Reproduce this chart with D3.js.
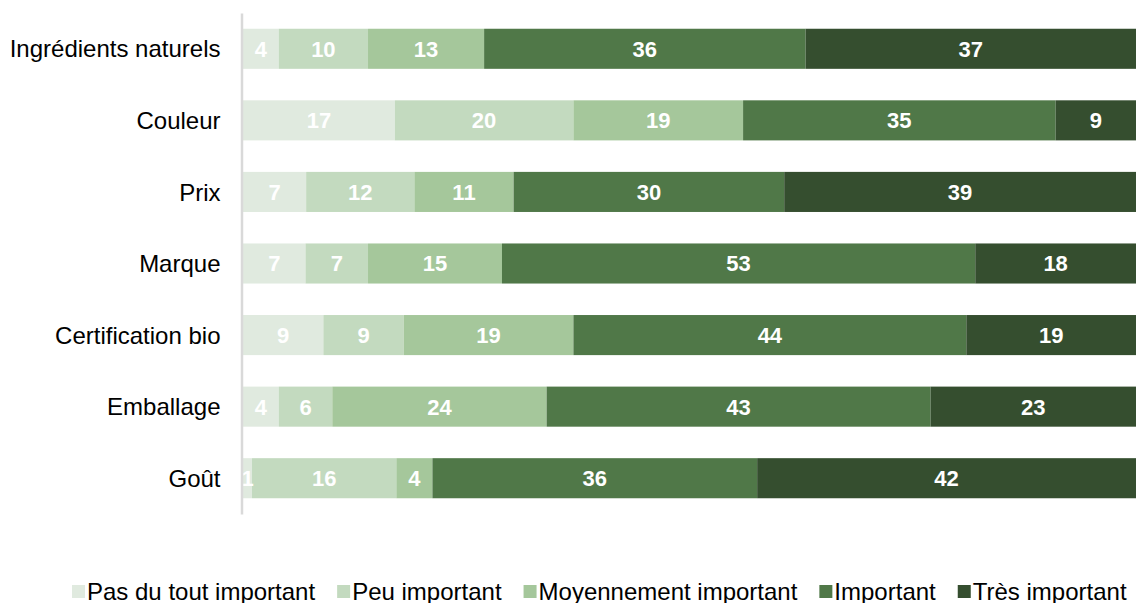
<!DOCTYPE html>
<html lang="fr">
<head>
<meta charset="UTF-8">
<title>Importance des critères</title>
<script src="https://cdn.jsdelivr.net/npm/d3@7"></script>
<style>
    body { margin: 0; background: #fff; }
    #chart { width: 1136px; height: 603px; }
    text { font-family: Arial, "Liberation Sans", sans-serif; }
</style>
</head>
<body>
<div id="chart"></div>
<script>
    // données
    var categories = ["Ingrédients naturels", "Couleur", "Prix", "Marque", "Certification bio", "Emballage", "Goût"];
    var seriesNames = ["Pas du tout important", "Peu important", "Moyennement important", "Important", "Très important"];
    var pasDuTout = [4, 17, 7, 7, 9, 4, 1];
    var peu = [10, 20, 12, 7, 9, 6, 16];
    var moyen = [13, 19, 11, 15, 19, 24, 4];
    var important = [36, 35, 30, 53, 44, 43, 36];
    var tres = [37, 9, 39, 18, 19, 23, 42];
    var colors = ["#e0eadf", "#c3dabf", "#a5c79b", "#507848", "#354e2f"];

    var width = 1136, height = 603;
    var mLeft = 243, mRight = 1136, mTop = 13, mBottom = 514;

    var rows = categories.map(function (c, i) {
        return {cat: c, v: [pasDuTout[i], peu[i], moyen[i], important[i], tres[i]]};
    });

    var svg = d3.select("#chart").append("svg")
        .attr("width", width)
        .attr("height", height);

    var y = d3.scaleBand()
        .domain(categories)
        .range([mTop, mBottom])
        .paddingInner(0.44)
        .paddingOuter(0.22);

    var x = d3.scaleLinear().domain([0, 1]).range([mLeft, mRight]);

    // barres empilées (normalisées à 100 %)
    rows.forEach(function (r) {
        var total = d3.sum(r.v);
        var acc = 0;
        var segs = r.v.map(function (v, k) {
            var s = {k: k, v: v, x0: acc / total, x1: (acc + v) / total};
            acc += v;
            return s;
        });
        var g = svg.append("g");
        g.selectAll("rect")
            .data(segs)
            .enter()
            .append("rect")
            .attr("x", function (d) { return x(d.x0); })
            .attr("width", function (d) { return x(d.x1) - x(d.x0); })
            .attr("y", y(r.cat))
            .attr("height", y.bandwidth())
            .attr("fill", function (d) { return colors[d.k]; });
        g.selectAll("text")
            .data(segs)
            .enter()
            .append("text")
            .attr("x", function (d) { return (x(d.x0) + x(d.x1)) / 2; })
            .attr("y", y(r.cat) + y.bandwidth() / 2)
            .attr("dy", "0.36em")
            .attr("text-anchor", "middle")
            .attr("fill", "#fff")
            .style("font-size", "22px")
            .style("font-weight", "bold")
            .text(function (d) { return d.v; });
    });

    // axe vertical
    var yAxis = svg.append("g")
        .attr("transform", "translate(" + (mLeft - 1.5) + ",0)")
        .call(d3.axisLeft(y).tickSize(0).tickPadding(21));
    yAxis.select(".domain")
        .attr("stroke", "#d9d9d9")
        .attr("stroke-width", 2.5);
    yAxis.selectAll("text")
        .attr("fill", "#000")
        .attr("dy", "0.36em")
        .style("font-size", "24px")
        .style("font-family", "Arial, 'Liberation Sans', sans-serif");

    // légende
    var legend = svg.append("g");
    var lx = 72;
    seriesNames.forEach(function (name, k) {
        legend.append("rect")
            .attr("x", lx)
            .attr("y", 585)
            .attr("width", 13)
            .attr("height", 13)
            .attr("fill", colors[k]);
        var t = legend.append("text")
            .attr("x", lx + 15)
            .attr("y", 600)
            .attr("fill", "#000")
            .style("font-size", "24px")
            .text(name);
        lx = lx + 15 + t.node().getComputedTextLength() + 22;
    });
</script>
</body>
</html>
